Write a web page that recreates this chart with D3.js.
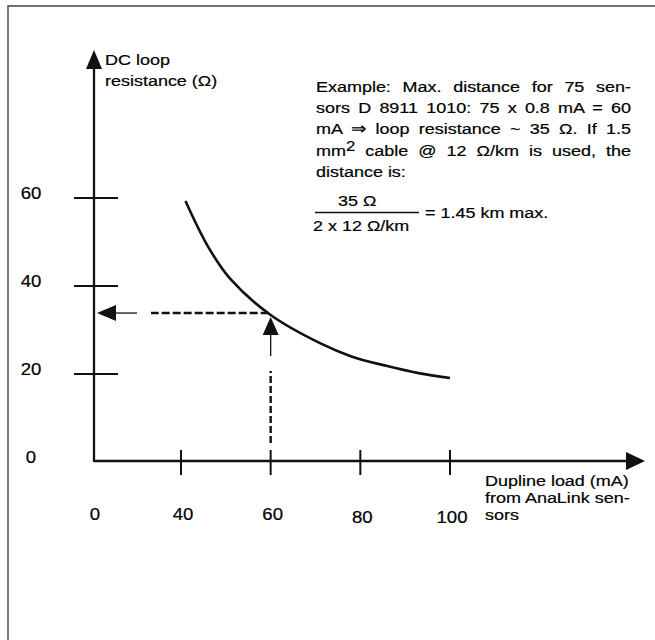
<!DOCTYPE html>
<html>
<head>
<meta charset="utf-8">
<script src="https://cdn.jsdelivr.net/npm/d3@7"></script>
<style>
  body { margin: 0; background: #fff; }
  text { font-family: "Liberation Sans", Arial, Helvetica, sans-serif; fill: #000; stroke: #000; stroke-width: 0.2; }
</style>
</head>
<body>
<script>
// curve: Dupline load (mA) vs DC loop resistance (ohm)
const loadMA = [41, 46, 51, 60, 71, 78, 86, 93, 100];
const resistance = [59.3, 49, 41.6, 33.4, 27, 24, 21.8, 20.2, 19.1];

const xTicks = [40, 60, 80, 100];
const yTicks = [20, 40, 60];
const yLabels = [0, 20, 40, 60];

// worked example readout
const exampleLoad = 60;
const exampleRes = 33.4;

const noteLines = [
  "Example: Max. distance for 75 sen-",
  "sors D 8911 1010: 75 x 0.8 mA = 60",
  "mA \u21D2 loop resistance ~ 35 \u03A9. If 1.5",
  "mm|2| cable @ 12 \u03A9/km is used, the",
  "distance is:"
];
const yTitle = ["DC loop", "resistance (\u03A9)"];
const xTitle = ["Dupline load (mA)", "from AnaLink sen-", "sors"];

const w = 655, h = 640;
const SX = 1.16; // the source lettering is a bit wide
const ox = 94, oy = 462;

const x = d3.scaleLinear().domain([40, 100]).range([181, 450]);
const y = d3.scaleLinear().domain([0, 60]).range([oy, 198]);

const svg = d3.select("body").append("svg")
  .attr("width", w)
  .attr("height", h);

function label(str, px, py, size, anchor) {
  return svg.append("text")
    .attr("transform", "translate(" + px + "," + py + ") scale(" + SX + ",1)")
    .attr("font-size", size)
    .attr("text-anchor", anchor || "start")
    .text(str);
}

// frame (top and left only)
svg.append("path")
  .attr("d", "M8,640 V6 H655")
  .attr("fill", "none")
  .attr("stroke", "#444")
  .attr("stroke-width", 1.4);

// axes
svg.append("line").attr("x1", ox).attr("y1", oy).attr("x2", ox).attr("y2", 64)
  .attr("stroke", "#111").attr("stroke-width", 2.3);
svg.append("path").attr("d", "M" + ox + ",50 L" + (ox - 8) + ",69 L" + (ox + 8) + ",69 Z").attr("fill", "#111");

svg.append("line").attr("x1", ox).attr("y1", oy - 1).attr("x2", 630).attr("y2", oy - 1)
  .attr("stroke", "#111").attr("stroke-width", 2.3);
svg.append("path").attr("d", "M645," + (oy - 1) + " L626," + (oy - 10) + " L626," + (oy + 8) + " Z").attr("fill", "#111");

// y ticks
svg.selectAll(".ytick")
  .data(yTicks)
  .enter()
  .append("line")
  .attr("class", "ytick")
  .attr("x1", ox - 20)
  .attr("x2", ox + 24)
  .attr("y1", (d) => y(d))
  .attr("y2", (d) => y(d))
  .attr("stroke", "#111")
  .attr("stroke-width", 2);

yLabels.forEach((d) => label(String(d), 31, y(d) + 1, 16, "middle"));

// x ticks
svg.selectAll(".xtick")
  .data(xTicks)
  .enter()
  .append("line")
  .attr("class", "xtick")
  .attr("x1", (d) => x(d))
  .attr("x2", (d) => x(d))
  .attr("y1", oy - 12)
  .attr("y2", oy + 13)
  .attr("stroke", "#111")
  .attr("stroke-width", 2);

label("0", ox + 1, 520, 16, "middle");
xTicks.forEach((d) => label(String(d), x(d) + 2, d >= 80 ? 523 : 520, 16, "middle"));

// curve
const line = d3.line()
  .x((d, i) => x(loadMA[i]))
  .y((d) => y(d))
  .curve(d3.curveCatmullRom.alpha(0.5));

svg.append("path")
  .attr("d", line(resistance))
  .attr("fill", "none")
  .attr("stroke", "#111")
  .attr("stroke-width", 2.6);

// readout: dashed up to the curve, dashed across to the axis
const ex = x(exampleLoad), ey = y(exampleRes);
svg.append("line").attr("x1", ex).attr("x2", ex).attr("y1", oy - 19).attr("y2", ey + 56)
  .attr("stroke", "#111").attr("stroke-width", 2.4).attr("stroke-dasharray", "7,3");
svg.append("line").attr("x1", ex).attr("x2", ex).attr("y1", ey + 41).attr("y2", ey + 18)
  .attr("stroke", "#111").attr("stroke-width", 1.3);
svg.append("path").attr("d", "M" + ex + "," + (ey + 2) + " L" + (ex - 8) + "," + (ey + 20) + " L" + (ex + 8) + "," + (ey + 20) + " Z").attr("fill", "#111");

svg.append("line").attr("x1", ex - 2).attr("x2", 151).attr("y1", ey - 2).attr("y2", ey - 2)
  .attr("stroke", "#111").attr("stroke-width", 2.4).attr("stroke-dasharray", "8,3");
svg.append("line").attr("x1", 137).attr("x2", 113).attr("y1", ey - 2).attr("y2", ey - 2)
  .attr("stroke", "#111").attr("stroke-width", 1.3);
svg.append("path").attr("d", "M" + (ox + 3) + "," + (ey - 2) + " L" + (ox + 22) + "," + (ey - 10) + " L" + (ox + 22) + "," + (ey + 6) + " Z").attr("fill", "#111");

// axis titles
yTitle.forEach((s, i) => label(s, 105, 65 + i * 21, 15.5));
xTitle.forEach((s, i) => label(s, 485, 486 + i * 17, 15.5));

// example note, justified by word spacing
noteLines.forEach((s, i) => {
  const t = svg.append("text")
    .attr("transform", "translate(316," + (92 + i * 21.2) + ") scale(" + SX + ",1)")
    .attr("font-size", 15.5);
  const parts = s.split("|");
  if (parts.length === 3) {
    t.append("tspan").text(parts[0]);
    t.append("tspan").attr("dy", -5).attr("font-size", 14.5).text(parts[1]);
    t.append("tspan").attr("dy", 5).text(parts[2]);
  } else {
    t.text(s);
  }
  if (i < noteLines.length - 1) {
    const natural = t.node().getComputedTextLength();
    const spaces = s.split(" ").length - 1;
    t.attr("word-spacing", ((315 / SX) - natural) / spaces);
  }
});

// fraction
label("35 \u03A9", 338, 206, 15.5);
svg.append("line").attr("x1", 315).attr("x2", 419).attr("y1", 212.5).attr("y2", 212.5)
  .attr("stroke", "#111").attr("stroke-width", 1.4);
label("2 x 12 \u03A9/km", 313, 231, 15.5);
label("= 1.45 km max.", 425, 218, 15.5);
</script>
</body>
</html>
